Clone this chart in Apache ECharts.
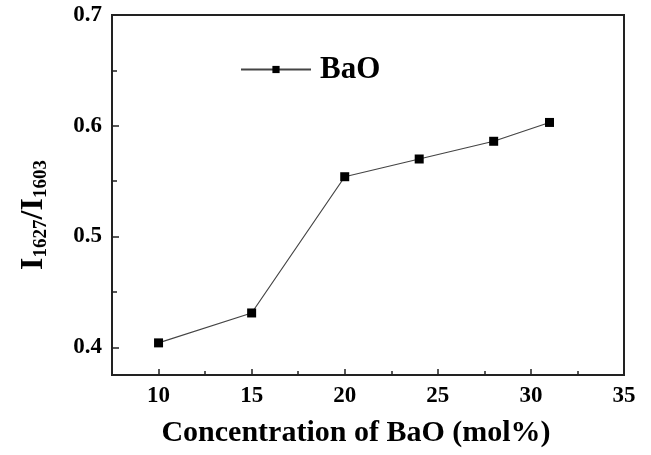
<!DOCTYPE html>
<html>
<head>
<meta charset="utf-8">
<script src="https://cdn.jsdelivr.net/npm/echarts@6/dist/echarts.min.js"></script>
<style>
  html, body { margin: 0; padding: 0; background: #fff; }
  #chart { width: 651px; height: 455px; }
</style>
</head>
<body>
<div id="chart"></div>
<script>
// BaO concentration (mol%) and the I1627/I1603 intensity ratio
const concentration = [10, 15, 20, 24, 28, 31];
const intensityRatio = [0.404, 0.431, 0.554, 0.570, 0.586, 0.603];
const seriesName = 'BaO';
const xTicks = [10, 15, 20, 25, 30, 35];
const yTicks = [0.4, 0.5, 0.6, 0.7];
// evenly spaced tick slots spanning each axis range (used only for tick marks)
const xTickSlots = ['7.5', '10', '12.5', '15', '17.5', '20', '22.5', '25', '27.5', '30', '32.5', '35'];
const yTickSlots = ['0.375', '0.4', '0.425', '0.45', '0.475', '0.5', '0.525', '0.55', '0.575', '0.6', '0.625', '0.65', '0.675', '0.7'];

const serif = '"Times New Roman", "Liberation Serif", serif';
const ink = '#222';

function isMultiple(v, step) {
  const r = Math.round(Number(v) * 1000);
  const s = Math.round(step * 1000);
  return r % s === 0;
}

// hidden category axis laid over a value axis, only to draw tick marks
function tickAxis(kind, slots, step, len, skipFirst) {
  return {
    type: 'category',
    data: slots,
    boundaryGap: false,
    position: kind === 'x' ? 'bottom' : 'left',
    offset: 0,
    axisLine: { show: false },
    axisLabel: { show: false },
    splitLine: { show: false },
    axisTick: {
      show: true, inside: true, length: len, alignWithLabel: true,
      lineStyle: { color: ink, width: 1.5 },
      interval: function (i, v) {
        if (skipFirst && i === 0) return false;
        return isMultiple(v, step);
      }
    }
  };
}

const chart = echarts.init(document.getElementById('chart'), null, { renderer: 'canvas' });

chart.setOption({
  backgroundColor: '#fff',
  animation: false,
  grid: {
    left: 112, right: 27, top: 15, bottom: 80,
    outerBoundsMode: 'none',
    containLabel: false,
    show: true, borderColor: ink, borderWidth: 2, backgroundColor: 'transparent'
  },
  legend: {
    left: 235, top: 49,
    itemWidth: 70, itemHeight: 9,
    textStyle: { fontFamily: serif, fontWeight: 'bold', fontSize: 31, color: '#000', padding: [0, 0, 0, 4] },
    data: [seriesName]
  },
  xAxis: [{
    type: 'value',
    min: 7.5, max: 35,
    interval: 2.5,
    name: 'Concentration of BaO (mol%)',
    nameLocation: 'middle',
    nameGap: 43,
    nameTextStyle: { fontFamily: serif, fontWeight: 'bold', fontSize: 30, color: '#000', padding: [0, 24, 0, 0] },
    axisLine: { show: true, lineStyle: { color: ink, width: 2 } },
    axisTick: { show: false },
    splitLine: { show: false },
    axisLabel: {
      fontFamily: serif, fontWeight: 'bold', fontSize: 23, color: '#000', margin: 10,
      formatter: function (v) { return xTicks.indexOf(v) >= 0 ? String(v) : ''; },
      showMinLabel: true, showMaxLabel: true
    }
  },
  tickAxis('x', xTickSlots, 5, 6, true),
  tickAxis('x', xTickSlots, 2.5, 4, true)
  ],
  yAxis: [{
    type: 'value',
    min: 0.375, max: 0.7,
    interval: 0.025,
    name: '{a|I}{b|1627}{a|/I}{b|1603}',
    nameLocation: 'middle',
    nameRotate: 90,
    nameGap: 61,
    nameTextStyle: {
      padding: [0, 40, 0, 0],
      rich: {
        a: { fontFamily: serif, fontWeight: 'bold', fontSize: 32, color: '#000', lineHeight: 34 },
        b: { fontFamily: serif, fontWeight: 'bold', fontSize: 19, color: '#000',
             verticalAlign: 'bottom', padding: [16, 0, 0, 0], lineHeight: 34 }
      }
    },
    axisLine: { show: true, lineStyle: { color: ink, width: 2 } },
    axisTick: { show: false },
    splitLine: { show: false },
    axisLabel: {
      fontFamily: serif, fontWeight: 'bold', fontSize: 23, color: '#000', margin: 10,
      formatter: function (v) {
        const r = Math.round(v * 1000);
        return yTicks.some(function (t) { return Math.round(t * 1000) === r; }) ? v.toFixed(1) : '';
      }
    }
  },
  tickAxis('y', yTickSlots, 0.1, 7, true),
  tickAxis('y', yTickSlots, 0.05, 5, true)
  ],
  series: [{
    name: seriesName,
    type: 'line',
    xAxisIndex: 0,
    yAxisIndex: 0,
    data: concentration.map(function (c, i) { return [c, intensityRatio[i]]; }),
    symbol: 'rect',
    symbolSize: 9,
    itemStyle: { color: '#000' },
    lineStyle: { color: '#444', width: 1.2 },
    z: 5
  }]
});
</script>
</body>
</html>
